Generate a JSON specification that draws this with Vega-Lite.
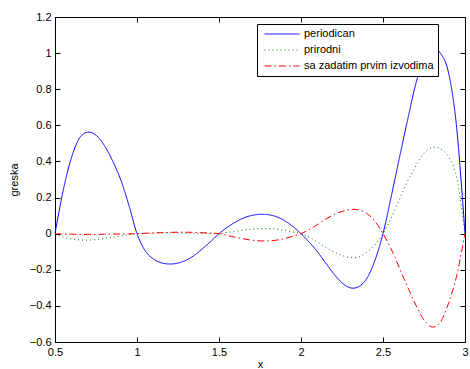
{
  "$schema": "https://vega.github.io/schema/vega-lite/v6.json",
  "width": 410,
  "height": 325,
  "autosize": "none",
  "padding": {"left": 55, "top": 17, "right": 5, "bottom": 27},
  "background": "white",
  "config": {
    "view": {"stroke": "black", "strokeWidth": 1},
    "font": "Liberation Sans",
    "axis": {
      "domainColor": "black", "tickColor": "black", "labelColor": "black", "titleColor": "black",
      "labelFont": "Liberation Sans", "titleFont": "Liberation Sans",
      "labelFontSize": 11, "titleFontSize": 11, "titleFontWeight": "normal",
      "tickSize": -5, "labelPadding": 9, "grid": false, "labelFlush": false, "labelOverlap": false
    }
  },
  "data": {"values": [
    {"x":0.5,"y":0,"s":"periodican"},{"x":0.55,"y":0.24,"s":"periodican"},{"x":0.6,"y":0.42,"s":"periodican"},{"x":0.65,"y":0.53,"s":"periodican"},{"x":0.7,"y":0.562,"s":"periodican"},{"x":0.75,"y":0.545,"s":"periodican"},{"x":0.8,"y":0.49,"s":"periodican"},{"x":0.85,"y":0.405,"s":"periodican"},{"x":0.9,"y":0.3,"s":"periodican"},{"x":0.95,"y":0.16,"s":"periodican"},{"x":1.0,"y":0,"s":"periodican"},
    {"x":1.05,"y":-0.095,"s":"periodican"},{"x":1.1,"y":-0.14,"s":"periodican"},{"x":1.15,"y":-0.162,"s":"periodican"},{"x":1.2,"y":-0.168,"s":"periodican"},{"x":1.25,"y":-0.163,"s":"periodican"},{"x":1.3,"y":-0.147,"s":"periodican"},{"x":1.35,"y":-0.12,"s":"periodican"},{"x":1.4,"y":-0.083,"s":"periodican"},{"x":1.45,"y":-0.043,"s":"periodican"},{"x":1.5,"y":0,"s":"periodican"},
    {"x":1.55,"y":0.035,"s":"periodican"},{"x":1.6,"y":0.064,"s":"periodican"},{"x":1.65,"y":0.087,"s":"periodican"},{"x":1.7,"y":0.101,"s":"periodican"},{"x":1.75,"y":0.107,"s":"periodican"},{"x":1.8,"y":0.105,"s":"periodican"},{"x":1.85,"y":0.094,"s":"periodican"},{"x":1.9,"y":0.072,"s":"periodican"},{"x":1.95,"y":0.04,"s":"periodican"},{"x":2.0,"y":0,"s":"periodican"},
    {"x":2.05,"y":-0.047,"s":"periodican"},{"x":2.1,"y":-0.1,"s":"periodican"},{"x":2.15,"y":-0.162,"s":"periodican"},{"x":2.2,"y":-0.222,"s":"periodican"},{"x":2.25,"y":-0.272,"s":"periodican"},{"x":2.3,"y":-0.3,"s":"periodican"},{"x":2.35,"y":-0.294,"s":"periodican"},{"x":2.4,"y":-0.25,"s":"periodican"},{"x":2.45,"y":-0.15,"s":"periodican"},{"x":2.5,"y":0,"s":"periodican"},
    {"x":2.55,"y":0.205,"s":"periodican"},{"x":2.6,"y":0.42,"s":"periodican"},{"x":2.65,"y":0.63,"s":"periodican"},{"x":2.7,"y":0.83,"s":"periodican"},{"x":2.75,"y":0.97,"s":"periodican"},{"x":2.8,"y":1.03,"s":"periodican"},{"x":2.85,"y":1.0,"s":"periodican"},{"x":2.9,"y":0.89,"s":"periodican"},{"x":2.95,"y":0.58,"s":"periodican"},{"x":3.0,"y":0,"s":"periodican"},

    {"x":0.5,"y":0,"s":"prirodni"},{"x":0.55,"y":-0.018,"s":"prirodni"},{"x":0.6,"y":-0.029,"s":"prirodni"},{"x":0.65,"y":-0.035,"s":"prirodni"},{"x":0.7,"y":-0.036,"s":"prirodni"},{"x":0.75,"y":-0.033,"s":"prirodni"},{"x":0.8,"y":-0.027,"s":"prirodni"},{"x":0.85,"y":-0.02,"s":"prirodni"},{"x":0.9,"y":-0.013,"s":"prirodni"},{"x":0.95,"y":-0.006,"s":"prirodni"},{"x":1.0,"y":0,"s":"prirodni"},
    {"x":1.05,"y":0.002,"s":"prirodni"},{"x":1.1,"y":0.003,"s":"prirodni"},{"x":1.15,"y":0.004,"s":"prirodni"},{"x":1.2,"y":0.004,"s":"prirodni"},{"x":1.25,"y":0.004,"s":"prirodni"},{"x":1.3,"y":0.003,"s":"prirodni"},{"x":1.35,"y":0.003,"s":"prirodni"},{"x":1.4,"y":0.002,"s":"prirodni"},{"x":1.45,"y":0.001,"s":"prirodni"},{"x":1.5,"y":0,"s":"prirodni"},
    {"x":1.55,"y":0.007,"s":"prirodni"},{"x":1.6,"y":0.014,"s":"prirodni"},{"x":1.65,"y":0.02,"s":"prirodni"},{"x":1.7,"y":0.025,"s":"prirodni"},{"x":1.75,"y":0.028,"s":"prirodni"},{"x":1.8,"y":0.028,"s":"prirodni"},{"x":1.85,"y":0.025,"s":"prirodni"},{"x":1.9,"y":0.018,"s":"prirodni"},{"x":1.95,"y":0.009,"s":"prirodni"},{"x":2.0,"y":0,"s":"prirodni"},
    {"x":2.05,"y":-0.02,"s":"prirodni"},{"x":2.1,"y":-0.046,"s":"prirodni"},{"x":2.15,"y":-0.075,"s":"prirodni"},{"x":2.2,"y":-0.1,"s":"prirodni"},{"x":2.25,"y":-0.121,"s":"prirodni"},{"x":2.3,"y":-0.132,"s":"prirodni"},{"x":2.35,"y":-0.13,"s":"prirodni"},{"x":2.4,"y":-0.104,"s":"prirodni"},{"x":2.45,"y":-0.062,"s":"prirodni"},{"x":2.5,"y":0,"s":"prirodni"},
    {"x":2.55,"y":0.085,"s":"prirodni"},{"x":2.6,"y":0.19,"s":"prirodni"},{"x":2.65,"y":0.29,"s":"prirodni"},{"x":2.7,"y":0.375,"s":"prirodni"},{"x":2.75,"y":0.445,"s":"prirodni"},{"x":2.8,"y":0.477,"s":"prirodni"},{"x":2.85,"y":0.47,"s":"prirodni"},{"x":2.9,"y":0.425,"s":"prirodni"},{"x":2.95,"y":0.31,"s":"prirodni"},{"x":3.0,"y":0,"s":"prirodni"},

    {"x":0.5,"y":0,"s":"sa zadatim prvim izvodima"},{"x":0.55,"y":-0.002,"s":"sa zadatim prvim izvodima"},{"x":0.6,"y":-0.003,"s":"sa zadatim prvim izvodima"},{"x":0.65,"y":-0.004,"s":"sa zadatim prvim izvodima"},{"x":0.7,"y":-0.004,"s":"sa zadatim prvim izvodima"},{"x":0.75,"y":-0.004,"s":"sa zadatim prvim izvodima"},{"x":0.8,"y":-0.003,"s":"sa zadatim prvim izvodima"},{"x":0.85,"y":-0.002,"s":"sa zadatim prvim izvodima"},{"x":0.9,"y":-0.002,"s":"sa zadatim prvim izvodima"},{"x":0.95,"y":-0.001,"s":"sa zadatim prvim izvodima"},{"x":1.0,"y":0,"s":"sa zadatim prvim izvodima"},
    {"x":1.05,"y":0.002,"s":"sa zadatim prvim izvodima"},{"x":1.1,"y":0.004,"s":"sa zadatim prvim izvodima"},{"x":1.15,"y":0.006,"s":"sa zadatim prvim izvodima"},{"x":1.2,"y":0.007,"s":"sa zadatim prvim izvodima"},{"x":1.25,"y":0.008,"s":"sa zadatim prvim izvodima"},{"x":1.3,"y":0.008,"s":"sa zadatim prvim izvodima"},{"x":1.35,"y":0.007,"s":"sa zadatim prvim izvodima"},{"x":1.4,"y":0.005,"s":"sa zadatim prvim izvodima"},{"x":1.45,"y":0.003,"s":"sa zadatim prvim izvodima"},{"x":1.5,"y":0,"s":"sa zadatim prvim izvodima"},
    {"x":1.55,"y":-0.01,"s":"sa zadatim prvim izvodima"},{"x":1.6,"y":-0.02,"s":"sa zadatim prvim izvodima"},{"x":1.65,"y":-0.029,"s":"sa zadatim prvim izvodima"},{"x":1.7,"y":-0.036,"s":"sa zadatim prvim izvodima"},{"x":1.75,"y":-0.04,"s":"sa zadatim prvim izvodima"},{"x":1.8,"y":-0.04,"s":"sa zadatim prvim izvodima"},{"x":1.85,"y":-0.036,"s":"sa zadatim prvim izvodima"},{"x":1.9,"y":-0.027,"s":"sa zadatim prvim izvodima"},{"x":1.95,"y":-0.014,"s":"sa zadatim prvim izvodima"},{"x":2.0,"y":0,"s":"sa zadatim prvim izvodima"},
    {"x":2.05,"y":0.022,"s":"sa zadatim prvim izvodima"},{"x":2.1,"y":0.05,"s":"sa zadatim prvim izvodima"},{"x":2.15,"y":0.08,"s":"sa zadatim prvim izvodima"},{"x":2.2,"y":0.105,"s":"sa zadatim prvim izvodima"},{"x":2.25,"y":0.123,"s":"sa zadatim prvim izvodima"},{"x":2.3,"y":0.134,"s":"sa zadatim prvim izvodima"},{"x":2.35,"y":0.132,"s":"sa zadatim prvim izvodima"},{"x":2.4,"y":0.113,"s":"sa zadatim prvim izvodima"},{"x":2.45,"y":0.07,"s":"sa zadatim prvim izvodima"},{"x":2.5,"y":0,"s":"sa zadatim prvim izvodima"},
    {"x":2.55,"y":-0.085,"s":"sa zadatim prvim izvodima"},{"x":2.6,"y":-0.19,"s":"sa zadatim prvim izvodima"},{"x":2.65,"y":-0.295,"s":"sa zadatim prvim izvodima"},{"x":2.7,"y":-0.395,"s":"sa zadatim prvim izvodima"},{"x":2.75,"y":-0.478,"s":"sa zadatim prvim izvodima"},{"x":2.8,"y":-0.517,"s":"sa zadatim prvim izvodima"},{"x":2.85,"y":-0.49,"s":"sa zadatim prvim izvodima"},{"x":2.9,"y":-0.385,"s":"sa zadatim prvim izvodima"},{"x":2.95,"y":-0.23,"s":"sa zadatim prvim izvodima"},{"x":3.0,"y":0,"s":"sa zadatim prvim izvodima"}
  ]},
  "layer": [
    {
      "mark": {"type": "line", "strokeWidth": 1, "interpolate": "cardinal"},
      "encoding": {
        "x": {"field": "x", "type": "quantitative",
              "scale": {"domain": [0.5, 3], "nice": false, "zero": false},
              "axis": {"values": [0.5, 1, 1.5, 2, 2.5, 3], "format": "~g", "title": "x", "titlePadding": 1}},
        "y": {"field": "y", "type": "quantitative",
              "scale": {"domain": [-0.6, 1.2], "nice": false, "zero": false},
              "axis": {"values": [-0.6, -0.4, -0.2, 0, 0.2, 0.4, 0.6, 0.8, 1, 1.2], "format": "~g", "title": "greska", "titlePadding": 10}},
        "color": {"field": "s", "type": "nominal",
                  "scale": {"domain": ["periodican", "prirodni", "sa zadatim prvim izvodima"], "range": ["#0000ff", "#008000", "#ff0000"]},
                  "legend": {"title": null, "orient": "none", "legendX": 202, "legendY": 7, "fillColor": "white", "strokeColor": "black",
                             "padding": 4, "symbolType": "stroke", "symbolSize": 1225, "symbolStrokeWidth": 1, "clipHeight": 12, "rowPadding": 4,
                             "labelFontSize": 11, "labelFont": "Liberation Sans", "labelColor": "black", "labelOffset": 4, "symbolOffset": 3}},
        "strokeDash": {"field": "s", "type": "nominal",
                  "scale": {"domain": ["periodican", "prirodni", "sa zadatim prvim izvodima"], "range": [[1, 0], [1, 3], [7, 3, 1.5, 3]]},
                  "legend": {"title": null, "orient": "none", "legendX": 202, "legendY": 7, "fillColor": "white", "strokeColor": "black",
                             "padding": 4, "symbolType": "stroke", "symbolSize": 1225, "symbolStrokeWidth": 1, "clipHeight": 12, "rowPadding": 4,
                             "labelFontSize": 11, "labelFont": "Liberation Sans", "labelColor": "black", "labelOffset": 4, "symbolOffset": 3}}
      }
    },
    {
      "mark": {"type": "line", "opacity": 0},
      "encoding": {
        "x": {"field": "x", "type": "quantitative",
              "axis": {"orient": "top", "values": [0.5, 1, 1.5, 2, 2.5, 3], "labels": false, "title": null}},
        "y": {"field": "y", "type": "quantitative",
              "axis": {"orient": "right", "values": [-0.6, -0.4, -0.2, 0, 0.2, 0.4, 0.6, 0.8, 1, 1.2], "labels": false, "title": null}}
      }
    }
  ],
  "resolve": {"axis": {"x": "independent", "y": "independent"}}
}
